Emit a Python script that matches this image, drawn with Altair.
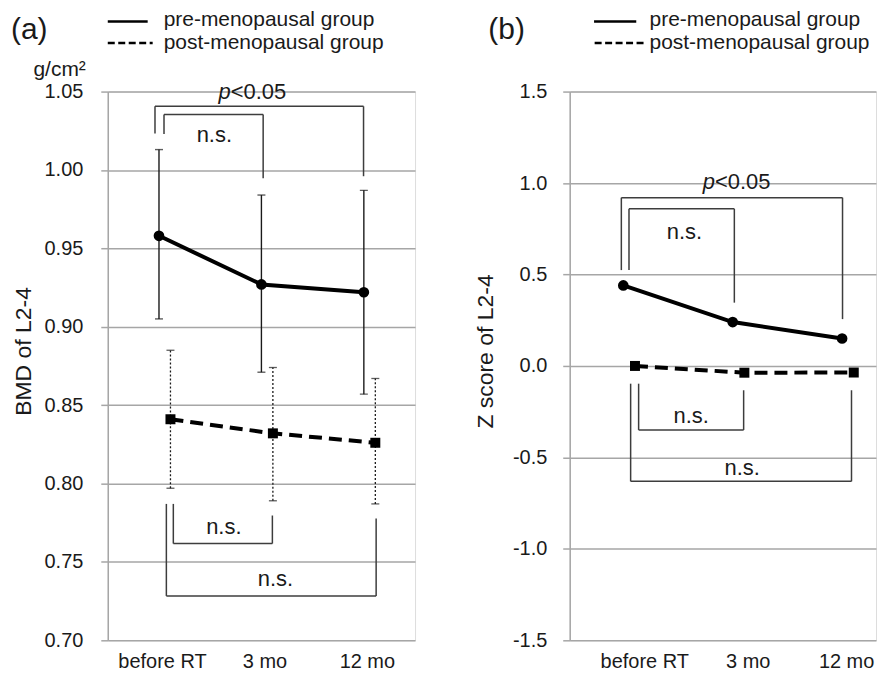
import json
import altair as alt
import pandas as pd

# ---------------- data ----------------
timepoints = ["before RT", "3 mo", "12 mo"]
groups = ["pre-menopausal group", "post-menopausal group"]

# (a) BMD of L2-4 (g/cm2): mean and error-bar ends
bmd_pre_mean = [0.958, 0.927, 0.922]
bmd_pre_low = [0.905, 0.871, 0.857]
bmd_pre_high = [1.013, 0.984, 0.987]
bmd_post_mean = [0.841, 0.832, 0.826]
bmd_post_low = [0.797, 0.789, 0.787]
bmd_post_high = [0.885, 0.874, 0.867]

# (b) Z score of L2-4
z_pre_mean = [0.44, 0.24, 0.15]
z_post_mean = [0.00, -0.037, -0.036]

bmd_ticks = [0.70, 0.75, 0.80, 0.85, 0.90, 0.95, 1.00, 1.05]
z_ticks = [-1.5, -1.0, -0.5, 0.0, 0.5, 1.0, 1.5]

# significance brackets (x in time-index units, y in data units)
bmd_br_x1 = [-0.039, 0.049, 0.14, 0.072]
bmd_br_x2 = [1.997, 1.017, 1.107, 2.12]
bmd_br_yleft = [1.0233, 1.023, 0.787, 0.787]
bmd_br_yright = [0.996, 0.9947, 0.7796, 0.7777]
bmd_br_bar = [1.0406, 1.0353, 0.7617, 0.7283]
bmd_note_text = ["n.s.", "n.s.", "n.s."]
bmd_note_x = [0.54, 0.633, 1.137]
bmd_note_y = [1.022, 0.772, 0.7388]
bmd_p_x = [0.70]
bmd_p_y = [1.05]

z_br_x1 = [-0.018, 0.052, 0.14, 0.067]
z_br_x2 = [2.004, 1.015, 1.10, 2.086]
z_br_yleft = [0.524, 0.524, -0.097, -0.097]
z_br_yright = [0.256, 0.346, -0.133, -0.133]
z_br_bar = [0.920, 0.859, -0.350, -0.631]
z_note_text = ["n.s.", "n.s.", "n.s."]
z_note_x = [0.559, 0.62, 1.087]
z_note_y = [0.732, -0.276, -0.556]
z_p_x = [0.838]
z_p_y = [1.005]

p_italic = "p"
p_rest = "<0.05"

# ---------------- styling ----------------
FONT = "Liberation Sans"
INK = "#1a1a1a"
GRID = "#a6a6a6"
BRACKET = "#3d3d3d"
PLOT_H = 550


def series_frame(means, lows=None, highs=None):
    d = {"idx": list(range(len(timepoints))), "time": timepoints, "mean": means}
    if lows is not None:
        d["low"] = lows
        d["high"] = highs
    return pd.DataFrame(d)


def panel(pre, post, y_domain, y_ticks, y_fmt, y_title, x_domain, width, post_dx,
          label_offset, label_pad_y, br, notes, p_pos, letter, letter_dx,
          solid_span, dash_span, text_dx, unit_label=None):
    x_axis = alt.Axis(values=[0, 1, 2],
                      labelExpr=json.dumps(timepoints) + "[datum.value]",
                      grid=False, ticks=False, tickSize=0, domain=False,
                      labelFont=FONT, labelFontSize=20, labelColor=INK,
                      labelPadding=11, labelOffset=label_offset)
    y_axis = alt.Axis(values=y_ticks,
                      labelExpr="replace(format(datum.value, '" + y_fmt + "'), '\u2212', '-')",
                      grid=True, gridColor=GRID, gridWidth=1.5,
                      domainColor=GRID, domainWidth=1.5,
                      tickColor=GRID, tickWidth=1.5, tickSize=7,
                      labelFont=FONT, labelFontSize=20, labelColor=INK,
                      labelPadding=label_pad_y,
                      titleFont=FONT, titleFontSize=23, titleFontWeight="normal",
                      titleColor=INK, titleAngle=270, titleX=-72, titleY=260,
                      titleBaseline="bottom", titleAlign="center")
    xs = alt.Scale(domain=x_domain, nice=False, zero=False)
    ys = alt.Scale(domain=y_domain, nice=False, zero=False)

    def X(f):
        return alt.X(f"{f}:Q", scale=xs, axis=x_axis, title=None)

    def Y(f):
        return alt.Y(f"{f}:Q", scale=ys, axis=y_axis, title=y_title)

    layers = []
    # error bars
    if "low" in pre.columns:
        layers.append(alt.Chart(pre).mark_rule(color=INK, strokeWidth=1.4)
                      .encode(x=X("idx"), y=Y("low"), y2="high:Q"))
        layers.append(alt.Chart(pre).transform_fold(["low", "high"], as_=["end", "val"])
                      .mark_tick(orient="horizontal", color=INK, size=8, thickness=1.4)
                      .encode(x=X("idx"), y=Y("val")))
        layers.append(alt.Chart(post).mark_rule(color=INK, strokeWidth=1.3,
                                                strokeDash=[2, 2], xOffset=post_dx)
                      .encode(x=X("idx"), y=Y("low"), y2="high:Q"))
        layers.append(alt.Chart(post).transform_fold(["low", "high"], as_=["end", "val"])
                      .mark_tick(orient="horizontal", color=INK, size=8, thickness=1.3,
                                 xOffset=post_dx)
                      .encode(x=X("idx"), y=Y("val")))
    # series
    layers.append(alt.Chart(pre).mark_line(color="black", strokeWidth=4)
                  .encode(x=X("idx"), y=Y("mean")))
    layers.append(alt.Chart(pre).mark_point(shape="circle", filled=True, size=115,
                                            color="black", opacity=1)
                  .encode(x=X("idx"), y=Y("mean")))
    layers.append(alt.Chart(post).mark_line(color="black", strokeWidth=4,
                                            strokeDash=[13, 7], xOffset=post_dx)
                  .encode(x=X("idx"), y=Y("mean")))
    layers.append(alt.Chart(post).mark_point(shape="square", filled=True, size=100,
                                             color="black", opacity=1, xOffset=post_dx)
                  .encode(x=X("idx"), y=Y("mean")))
    # brackets
    layers.append(alt.Chart(br).mark_rule(color=BRACKET, strokeWidth=1.5)
                  .encode(x=X("x1"), y=Y("yl"), y2="bar:Q"))
    layers.append(alt.Chart(br).mark_rule(color=BRACKET, strokeWidth=1.5)
                  .encode(x=X("x2"), y=Y("yr"), y2="bar:Q"))
    layers.append(alt.Chart(br).mark_rule(color=BRACKET, strokeWidth=1.5)
                  .encode(x=X("x1"), x2="x2:Q", y=Y("bar")))
    # notes
    layers.append(alt.Chart(notes).mark_text(font=FONT, fontSize=22, color=INK,
                                             align="center", baseline="middle")
                  .encode(x=X("x"), y=Y("y"), text="text:N"))
    layers.append(alt.Chart(p_pos).mark_text(font=FONT, fontSize=22, color=INK,
                                             fontStyle="italic", align="right",
                                             baseline="middle")
                  .encode(x=X("x"), y=Y("y"), text="pi:N"))
    layers.append(alt.Chart(p_pos).mark_text(font=FONT, fontSize=22, color=INK,
                                             align="left", baseline="middle")
                  .encode(x=X("x"), y=Y("y"), text="pr:N"))
    # legend (drawn above the plot)
    leg = pd.DataFrame({"label": groups})
    layers.append(alt.Chart(leg.iloc[[0]]).mark_rule(color="black", strokeWidth=2.5)
                  .encode(x=alt.value(solid_span[0]), x2=alt.value(solid_span[1]),
                          y=alt.value(-70.3)))
    layers.append(alt.Chart(leg.iloc[[1]]).mark_rule(color="black", strokeWidth=2.5,
                                                     strokeDash=[7, 3.5])
                  .encode(x=alt.value(dash_span[0]), x2=alt.value(dash_span[1]),
                          y=alt.value(-48.7)))
    layers.append(alt.Chart(leg.iloc[[0]]).mark_text(font=FONT, fontSize=21, color=INK,
                                                     align="left", baseline="alphabetic")
                  .encode(x=alt.value(text_dx), y=alt.value(-65.3), text="label:N"))
    layers.append(alt.Chart(leg.iloc[[1]]).mark_text(font=FONT, fontSize=21, color=INK,
                                                     align="left", baseline="alphabetic")
                  .encode(x=alt.value(text_dx), y=alt.value(-43), text="label:N"))
    layers.append(alt.Chart(pd.DataFrame({"t": [letter]})).mark_text(
        font=FONT, fontSize=30, color=INK, align="left", baseline="alphabetic")
        .encode(x=alt.value(letter_dx), y=alt.value(-52.6), text="t:N"))
    if unit_label is not None:
        layers.append(alt.Chart(pd.DataFrame({"t": [unit_label]})).mark_text(
            font=FONT, fontSize=21, color=INK, align="right", baseline="alphabetic")
            .encode(x=alt.value(-22), y=alt.value(-16), text="t:N"))
    return alt.layer(*layers).properties(width=width, height=PLOT_H)


bmd_br = pd.DataFrame({"x1": bmd_br_x1, "x2": bmd_br_x2, "yl": bmd_br_yleft,
                       "yr": bmd_br_yright, "bar": bmd_br_bar})
z_br = pd.DataFrame({"x1": z_br_x1, "x2": z_br_x2, "yl": z_br_yleft,
                     "yr": z_br_yright, "bar": z_br_bar})
bmd_notes = pd.DataFrame({"text": bmd_note_text, "x": bmd_note_x, "y": bmd_note_y})
z_notes = pd.DataFrame({"text": z_note_text, "x": z_note_x, "y": z_note_y})
bmd_p = pd.DataFrame({"x": bmd_p_x, "y": bmd_p_y, "pi": [p_italic], "pr": [p_rest]})
z_p = pd.DataFrame({"x": z_p_x, "y": z_p_y, "pi": [p_italic], "pr": [p_rest]})

panel_a = panel(series_frame(bmd_pre_mean, bmd_pre_low, bmd_pre_high),
                series_frame(bmd_post_mean, bmd_post_low, bmd_post_high),
                [0.70, 1.05], bmd_ticks, ".2f", "BMD of L2-4",
                [-0.5, 2.5], 308, 11.5, 3, 18, bmd_br, bmd_notes, bmd_p,
                "(a)", -97, (0, 40), (0, 45), 56, unit_label="g/cm\u00b2")

panel_b = panel(series_frame(z_pre_mean), series_frame(z_post_mean),
                [-1.5, 1.5], z_ticks, ".1f", "Z score of L2-4",
                [-0.49, 2.31], 307, 11.7,
                alt.ExprRef(expr="datum.value == 0 ? 21 : (datum.value == 1 ? 15 : 4)"),
                16, z_br, z_notes, z_p,
                "(b)", -81.6, (24.4, 66.7), (25, 75.7), 80)

chart = (alt.hconcat(panel_a, panel_b, spacing=58)
         .properties(padding={"left": 2, "top": 0, "right": 0, "bottom": 0})
         .configure_view(stroke=None)
         .configure(font=FONT))

chart.save("out.html", embed_options={"renderer": "svg", "actions": False})
